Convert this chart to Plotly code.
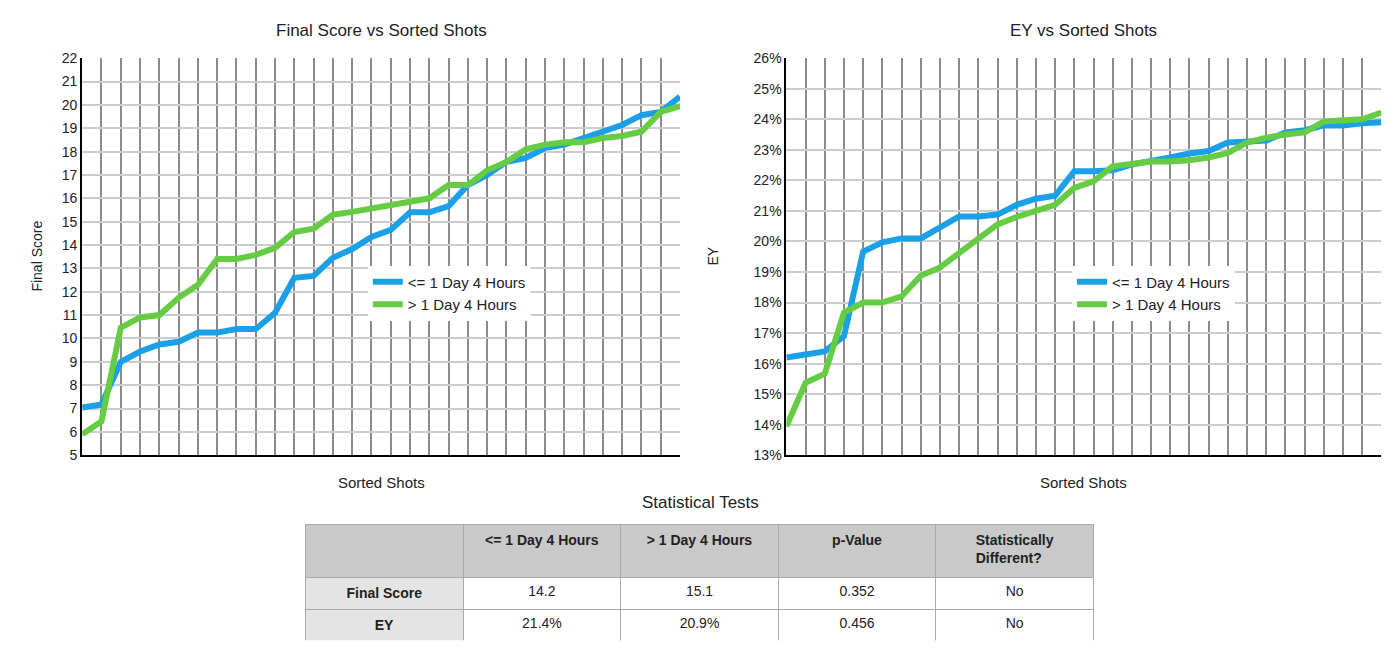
import plotly.graph_objects as go

shots = list(range(1, 33))
fs_short = [7.04, 7.17, 9.0, 9.44, 9.74, 9.86, 10.25, 10.25, 10.4, 10.4, 11.1, 12.6, 12.68, 13.45, 13.83,
            14.35, 14.65, 15.4, 15.4, 15.67, 16.57, 17.0, 17.56, 17.73, 18.15, 18.3, 18.58, 18.85, 19.14, 19.56, 19.7, 20.35]
fs_long = [5.9, 6.45, 10.46, 10.9, 11.0, 11.74, 12.3, 13.4, 13.4, 13.58, 13.88, 14.56, 14.7, 15.3, 15.42,
           15.55, 15.7, 15.85, 16.0, 16.57, 16.57, 17.2, 17.56, 18.1, 18.3, 18.4, 18.4, 18.58, 18.67, 18.85, 19.7, 19.95]
ey_short = [16.2, 16.3, 16.4, 16.9, 19.67, 19.97, 20.1, 20.1, 20.46, 20.82, 20.82, 20.88, 21.2, 21.4, 21.5,
            22.3, 22.3, 22.33, 22.52, 22.62, 22.75, 22.88, 22.96, 23.24, 23.29, 23.3, 23.57, 23.64, 23.8, 23.8, 23.87, 23.9]
ey_long = [13.95, 15.37, 15.67, 17.67, 18.0, 18.0, 18.2, 18.88, 19.15, 19.64, 20.13, 20.56, 20.8, 20.98, 21.2,
           21.75, 21.97, 22.46, 22.52, 22.62, 22.62, 22.66, 22.75, 22.9, 23.24, 23.4, 23.5, 23.57, 23.93, 23.96, 24.0, 24.22]

names = ["<= 1 Day 4 Hours", "> 1 Day 4 Hours"]
colors = ["#1aa0e6", "#66cc44"]

tbl_cols = ["", "<= 1 Day 4 Hours", "> 1 Day 4 Hours", "p-Value", "Statistically<br>Different?"]
tbl_rows = ["Final Score", "EY"]
tbl_short = ["14.2", "21.4%"]
tbl_long = ["15.1", "20.9%"]
tbl_p = ["0.352", "0.456"]
tbl_diff = ["No", "No"]

FONT = "Liberation Sans"
fig = go.Figure()
for ys, nm, c in zip([fs_short, fs_long], names, colors):
    fig.add_trace(go.Scatter(x=shots, y=ys, name=nm, mode="lines", line=dict(color=c, width=6),
                             xaxis="x", yaxis="y", legend="legend"))
for ys, nm, c in zip([ey_short, ey_long], names, colors):
    fig.add_trace(go.Scatter(x=shots, y=ys, name=nm, mode="lines", line=dict(color=c, width=6),
                             xaxis="x2", yaxis="y2", legend="legend2"))

fig.add_trace(go.Table(
    domain=dict(x=[0.2125, 0.7755], y=[0.031, 0.212]),
    columnwidth=[1, 1, 1, 1, 1],
    header=dict(values=["<b>%s</b>" % v if v else "" for v in tbl_cols], fill_color="#c9c9c9",
                line_color="#aaaaaa", align="center", height=53,
                font=dict(family=FONT, size=14, color="#222")),
    cells=dict(values=[["<b>%s</b>" % r for r in tbl_rows], tbl_short, tbl_long, tbl_p, tbl_diff],
               fill_color=[["#e4e4e4"] * 2, ["white"] * 2, ["white"] * 2, ["white"] * 2, ["white"] * 2],
               line_color="#aaaaaa", align="center", height=32,
               font=dict(family=FONT, size=14, color="#222"))))

grid = dict(showgrid=True, gridcolor="#8c8c8c", gridwidth=1.5, zeroline=False)
ygrid = dict(showgrid=True, gridcolor="#cccccc", gridwidth=1.5, zeroline=False)
fig.update_layout(
    width=1400, height=661, paper_bgcolor="white", plot_bgcolor="white",
    margin=dict(l=0, r=0, t=0, b=0),
    font=dict(family=FONT, size=14, color="#222"),
    xaxis=dict(domain=[0.053, 0.480], range=[1, 32], dtick=1, showticklabels=False, ticks="",
               showline=True, linecolor="black", linewidth=2, **grid),
    yaxis=dict(domain=[0.319, 0.9346], range=[5, 22], dtick=1, anchor="x",
               showline=True, linecolor="black", linewidth=2, ticks="", **ygrid),
    xaxis2=dict(domain=[0.556, 0.981], range=[1, 32], dtick=1, showticklabels=False, ticks="", anchor="y2",
                showline=True, linecolor="black", linewidth=2, **grid),
    yaxis2=dict(domain=[0.319, 0.9346], range=[13, 26], dtick=1, anchor="x2", ticksuffix="%",
                showline=True, linecolor="black", linewidth=2, ticks="", **ygrid),
    legend=dict(x=0.257, y=0.613, xanchor="left", yanchor="top", bgcolor="white",
                font=dict(size=15)),
    legend2=dict(x=0.760, y=0.613, xanchor="left", yanchor="top", bgcolor="white",
                 font=dict(size=15)),
    showlegend=True,
)
ann = [
    dict(text="Final Score vs Sorted Shots", x=0.2665, y=0.978, size=17),
    dict(text="EY vs Sorted Shots", x=0.7685, y=0.978, size=17),
    dict(text="Sorted Shots", x=0.2665, y=0.277, size=15),
    dict(text="Sorted Shots", x=0.7685, y=0.277, size=15),
    dict(text="Statistical Tests", x=0.4945, y=0.2463, size=17),
]
for a in ann:
    fig.add_annotation(text=a["text"], x=a["x"], y=a["y"], xref="paper", yref="paper",
                       showarrow=False, font=dict(size=a["size"]), xanchor="center", yanchor="middle")
fig.add_annotation(text="Final Score", x=19 / 1400, y=0.627, xref="paper", yref="paper",
                   showarrow=False, textangle=-90, font=dict(size=14))
fig.add_annotation(text="EY", x=705 / 1400, y=0.627, xref="paper", yref="paper",
                   showarrow=False, textangle=-90, font=dict(size=14))
fig.write_html("out.html")
